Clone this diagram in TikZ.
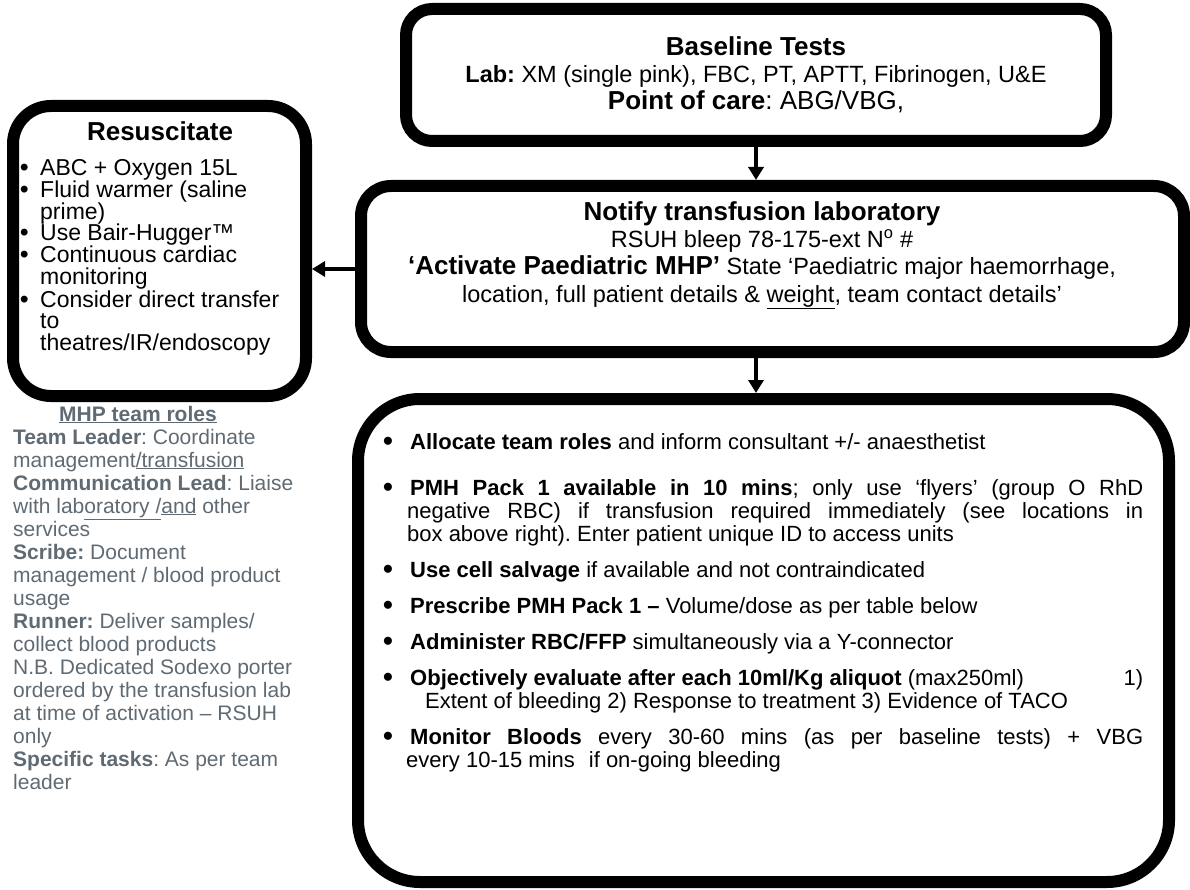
\documentclass[tikz,border=0pt]{standalone}
\usepackage{fontspec}
\setmainfont{Liberation Sans}
\usetikzlibrary{arrows.meta}
\definecolor{roleg}{RGB}{95,106,115}
\frenchspacing
\begin{document}
\begin{tikzpicture}[x=1pt,y=-1pt,
  box/.style={draw, line width=12pt, inner sep=0pt},
  hd/.style={font=\fontsize{26}{30}\selectfont\bfseries, inner sep=0pt, anchor=base},
  tx/.style={font=\fontsize{23.5}{27}\selectfont, inner sep=0pt, anchor=base},
  rs/.style={font=\fontsize{23}{22}\selectfont, inner sep=0pt, anchor=base west},
  rbul/.style={font=\fontsize{24}{22}\selectfont\bfseries, inner sep=0pt, anchor=base west},
  bt/.style={font=\fontsize{22}{23}\selectfont, inner sep=0pt, anchor=base west},
  bul/.style={font=\fontsize{28}{23}\selectfont\bfseries, inner sep=0pt, anchor=base west},
  role/.style={font=\fontsize{21}{23}\selectfont, text=roleg, inner sep=0pt, anchor=base west},
  arr/.style={line width=3.5pt, -{Triangle[width=15pt,length=13pt]}}]
\useasboundingbox (0,0) rectangle (1190,890);
\clip (0,0) rectangle (1190,890);

% boxes
\node[box, rounded corners=26pt, minimum width=700pt, minimum height=132pt] (base) at (756,75) {};
\node[box, rounded corners=38pt, minimum width=293pt, minimum height=290pt] (resus) at (159.5,251) {};
\node[box, rounded corners=30pt, minimum width=823pt, minimum height=166pt] (notify) at (772.5,269) {};
\node[box, rounded corners=62pt, minimum width=811pt, minimum height=483pt] (act) at (763.5,640.5) {};

% connectors
\draw[arr] (base.south) -- (base.south |- notify.north);
\draw[arr] (notify.west) -- (notify.west -| resus.east);
\draw[arr] (base.south |- notify.south) -- (base.south |- act.north);

% baseline tests
\node[hd] (bt1) at (756,56) {Baseline Tests};
\node[tx] (bt2) at (756,83) {\textbf{Lab:} XM (single pink), FBC, PT, APTT, Fibrinogen, U\&E};
\node[hd] (bt3) at (756,110) {Point of care\mdseries: ABG/VBG,};

% notify
\node[hd] (n1) at (762,221) {Notify transfusion laboratory};
\node[tx] (n2) at (762,248) {RSUH bleep 78-175-ext N\textsuperscript{o} \#};
\node[tx] (n3) at (762,275) {\textbf{\fontsize{26}{30}\selectfont ‘Activate Paediatric MHP’} State ‘Paediatric major haemorrhage,};
\node[tx] (n4) at (762,302) {location, full patient details \& \underline{weight}, team contact details’};

% resuscitate
\node[hd] (r0) at (160,141) {Resuscitate};
\node[rbul] (r1b) at (20,176) {\textbullet};
\node[rs] (r1) at (40,176) {ABC + Oxygen 15L};
\node[rbul] (r2b) at (20,198) {\textbullet};
\node[rs] (r2) at (40,198) {Fluid warmer (saline};
\node[rs] (r2c) at (40,219.5) {prime)};
\node[rbul] (r3b) at (20,241) {\textbullet};
\node[rs] (r3) at (40,241) {Use Bair-Hugger™};
\node[rbul] (r4b) at (20,263) {\textbullet};
\node[rs] (r4) at (40,263) {Continuous cardiac};
\node[rs] (r4c) at (40,285) {monitoring};
\node[rbul] (r5b) at (20,307) {\textbullet};
\node[rs] (r5) at (40,307) {Consider direct transfer};
\node[rs] (r5c) at (40,328.5) {to};
\node[rs] (r5d) at (40,350) {theatres/IR/endoscopy};

% team roles
\node[role, anchor=base, font=\fontsize{21}{23}\selectfont\bfseries] (m0) at (138,421) {\underline{MHP team roles}};
\node[role] (m1) at (13,444) {\textbf{Team Leader}: Coordinate};
\node[role] (m2) at (13,467) {management\underline{/transfusion}};
\node[role] (m3) at (13,490) {\textbf{Communication Lead}: Liaise};
\node[role] (m4) at (13,513) {with lab\underline{oratory /}\underline{and} other};
\node[role] (m5) at (13,536) {services};
\node[role] (m6) at (13,559) {\textbf{Scribe:} Document};
\node[role] (m7) at (13,582) {management / blood product};
\node[role] (m8) at (13,605) {usage};
\node[role] (m9) at (13,628) {\textbf{Runner:} Deliver samples/};
\node[role] (m10) at (13,651) {collect blood products};
\node[role] (m11) at (13,674) {N.B. Dedicated Sodexo porter};
\node[role] (m12) at (13,697) {ordered by the transfusion lab};
\node[role] (m13) at (13,720) {at time of activation – RSUH};
\node[role] (m14) at (13,743) {only};
\node[role] (m15) at (13,766) {\textbf{Specific tasks}: As per team};
\node[role] (m16) at (13,789) {leader};

% actions
\node[bul] (a1b) at (383,450) {\textbullet};
\node[bt] (a1) at (410,449) {\textbf{Allocate team roles} and inform consultant +/- anaesthetist};
\node[bul] (a2b) at (383,496) {\textbullet};
\node[bt] (a2) at (410,495) {\makebox[733pt][s]{\textbf{PMH Pack 1 available in 10 mins}; only use ‘flyers’ (group O RhD}};
\node[bt] (a2c) at (407,518) {\makebox[736pt][s]{negative RBC) if transfusion required immediately (see locations in}};
\node[bt] (a2d) at (407,541) {box above right). Enter patient unique ID to access units};
\node[bul] (a3b) at (383,578) {\textbullet};
\node[bt] (a3) at (410,577) {\textbf{Use cell salvage} if available and not contraindicated};
\node[bul] (a4b) at (383,614) {\textbullet};
\node[bt] (a4) at (410,613) {\textbf{Prescribe PMH Pack 1 –} Volume/dose as per table below};
\node[bul] (a5b) at (383,650) {\textbullet};
\node[bt] (a5) at (410,649) {\textbf{Administer RBC/FFP} simultaneously via a Y-connector};
\node[bul] (a6b) at (383,686) {\textbullet};
\node[bt] (a6) at (410,685) {\makebox[733pt][l]{\textbf{Objectively evaluate after each 10ml/Kg aliquot} (max250ml)\hfill 1)}};
\node[bt] (a6c) at (425,708) {Extent of bleeding 2) Response to treatment 3) Evidence of TACO};
\node[bul] (a7b) at (383,745) {\textbullet};
\node[bt] (a7) at (410,744) {\makebox[733pt][s]{\textbf{Monitor Bloods} every 30-60 mins (as per baseline tests) + VBG}};
\node[bt] (a7c) at (406,767) {every 10-15 mins\hspace{14pt}if on-going bleeding};
\end{tikzpicture}
\end{document}
